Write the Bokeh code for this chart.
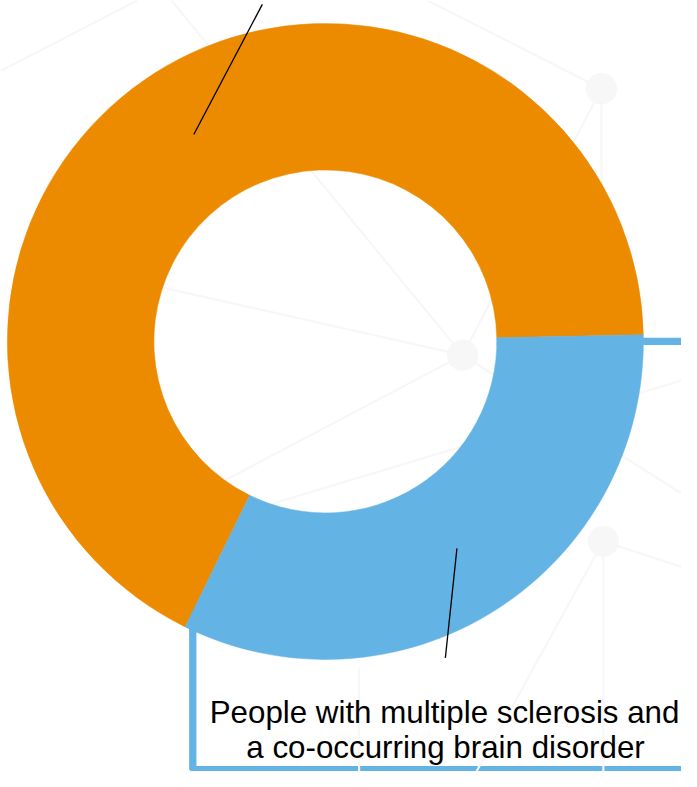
import numpy as np
from bokeh.plotting import figure
from bokeh.models import Range1d, ColumnDataSource
from bokeh.core.properties import value
from bokeh.embed import file_html
from bokeh.resources import INLINE

# ---- data ----
categories = ["People with multiple sclerosis only",
              "People with multiple sclerosis and a co-occurring brain disorder"]
shares = [67.4, 32.6]
colors = ["#ED8B00", "#63B4E4"]
label_lines = ["People with multiple sclerosis and", "a co-occurring brain disorder"]

# ---- layout constants (design space 697x787, y measured from top) ----
W, H = 697.0, 787.0
FW, FH = 681, 771
S = FW / W  # design px -> screen px


def Y(py):
    return H - py


cx, cy = 332.5, Y(348)
r_in, r_out = 175.5, 325.5
start_deg = 1.2  # first slice boundary (deg, ccw from +x)

p = figure(width=FW, height=FH, output_backend="svg", toolbar_location=None,
           x_range=Range1d(0, W), y_range=Range1d(0, H),
           min_border=0, background_fill_color="white", border_fill_color="white")
p.axis.visible = False
p.grid.visible = False
p.outline_line_color = None

# ---- text box outline (behind the donut) ----
blue = colors[1]
p.quad(left=196.8, right=730, top=Y(348), bottom=Y(785), fill_color=None,
       line_color=blue, line_width=7.5 * S)

# hole of the donut
p.circle(x=cx, y=cy, radius=r_in, fill_color="white", line_color=None)

# ---- faint background network ----
bg_segs = [
    ((437, 0), (615, 90)),
    ((615, 90), (473, 362)),
    ((615, 90), (615, 360)),
    ((175, 0), (473, 362)),
    ((473, 362), (730, 524)),
    ((617, 552), (730, 589)),
    ((617, 552), (617, 800)),
    ((617, 552), (480, 800)),
    ((157, 550), (730, 378)),
    ((473, 362), (157, 291)),
    ((473, 362), (157, 528)),
    ((0, 72), (140, 0)),
    ((367, 680), (367, 800)),
]
p.segment(x0=[a[0] for a, b in bg_segs], y0=[Y(a[1]) for a, b in bg_segs],
          x1=[b[0] for a, b in bg_segs], y1=[Y(b[1]) for a, b in bg_segs],
          line_color="#f7f7f7", line_width=2.2)
nodes = [(615, 90), (473, 362), (617, 552)]
p.circle(x=[n[0] for n in nodes], y=[Y(n[1]) for n in nodes], radius=16,
         fill_color="#f7f7f7", line_color=None)

# ---- donut ----
fr = np.array(shares) / sum(shares)
ends = np.radians(start_deg) + 2 * np.pi * np.cumsum(fr)
starts = np.concatenate([[np.radians(start_deg)], ends[:-1]])
src = ColumnDataSource(dict(cat=categories, start=starts, end=ends, color=colors))
p.annular_wedge(x=cx, y=cy, inner_radius=r_in, outer_radius=r_out,
                start_angle="start", end_angle="end", fill_color="color",
                line_color="color", line_width=0.5, source=src)

# ---- leader lines from slice mid-points ----
mids = (starts + ends) / 2
r_mid = (r_in + r_out) / 2
ends_pts = [(268, 4), (455.3, 671)]
for m, (ex, ey) in zip(mids, ends_pts):
    p.line(x=[cx + r_mid * np.cos(m), ex], y=[cy + r_mid * np.sin(m), Y(ey)],
           line_color="black", line_width=1.3)

# ---- label ----
p.text(x=[454.5, 455.5], y=[Y(727), Y(762)], text=label_lines,
       text_font=value("Liberation Sans"), text_font_size=f"{32 * S:.1f}px",
       text_align="center", text_baseline="alphabetic", text_color="black")

open("out.html", "w").write(file_html(p, INLINE))
